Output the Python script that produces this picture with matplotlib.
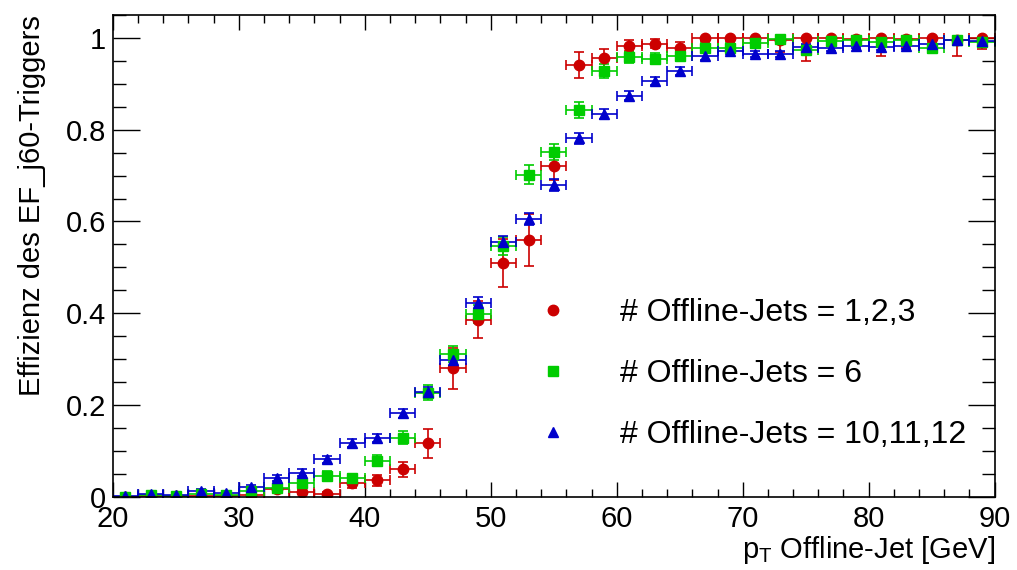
import numpy as np
import matplotlib
matplotlib.use("Agg")
import matplotlib.pyplot as plt
from matplotlib.ticker import MultipleLocator

plt.rcParams['font.family'] = ['Liberation Sans', 'DejaVu Sans']
plt.rcParams['mathtext.default'] = 'regular'

# bin centres (bin width 2 GeV)
pt = [21, 23, 25, 27, 29, 31, 33, 35, 37, 39, 41, 43, 45, 47, 49, 51, 53, 55,
      57, 59, 61, 63, 65, 67, 69, 71, 73, 75, 77, 79, 81, 83, 85, 87, 89]
bin_halfwidth = 1.0

eff_123 = [0.0, 0.002, 0.002, 0.003, 0.003, 0.004, 0.018, 0.012, 0.007, 0.03,
           0.037, 0.06, 0.117, 0.28, 0.386, 0.509, 0.56, 0.72,
           0.941, 0.956, 0.983, 0.987, 0.978, 1.0, 1.0, 1.0, 0.995, 1.0,
           1.0, 0.998, 1.0, 0.998, 1.0, 0.995, 1.0]
err_123 = [0.003, 0.003, 0.003, 0.003, 0.003, 0.004, 0.006, 0.006, 0.005, 0.01,
           0.012, 0.016, 0.032, 0.045, 0.04, 0.052, 0.057, 0.03,
           0.028, 0.02, 0.012, 0.01, 0.012, 0.008, 0.008, 0.006, 0.025, 0.05,
           0.01, 0.01, 0.04, 0.02, 0.012, 0.035, 0.025]

eff_6 = [0.0, 0.004, 0.002, 0.006, 0.005, 0.014, 0.02, 0.031, 0.046, 0.041,
         0.079, 0.129, 0.227, 0.311, 0.398, 0.546, 0.702, 0.751,
         0.843, 0.927, 0.958, 0.954, 0.961, 0.978, 0.978, 0.988, 0.998, 0.974,
         0.994, 0.996, 0.99, 0.996, 0.977, 0.995, 0.99]
err_6 = [0.004, 0.004, 0.004, 0.004, 0.004, 0.005, 0.007, 0.008, 0.01, 0.01,
         0.012, 0.014, 0.016, 0.018, 0.02, 0.02, 0.02, 0.018,
         0.017, 0.015, 0.012, 0.012, 0.012, 0.01, 0.01, 0.01, 0.01, 0.01,
         0.01, 0.01, 0.01, 0.01, 0.01, 0.01, 0.01]

eff_101112 = [0.002, 0.006, 0.004, 0.013, 0.009, 0.022, 0.041, 0.053, 0.082, 0.118,
              0.128, 0.182, 0.229, 0.298, 0.423, 0.555, 0.605, 0.679,
              0.781, 0.834, 0.874, 0.906, 0.927, 0.96, 0.971, 0.965, 0.965, 0.981,
              0.978, 0.983, 0.98, 0.982, 0.987, 0.995, 0.993]
err_101112 = [0.003, 0.003, 0.003, 0.004, 0.004, 0.005, 0.006, 0.007, 0.008, 0.009,
              0.009, 0.01, 0.011, 0.012, 0.013, 0.013, 0.013, 0.013,
              0.012, 0.011, 0.01, 0.009, 0.009, 0.008, 0.007, 0.007, 0.007, 0.006,
              0.006, 0.006, 0.006, 0.006, 0.005, 0.005, 0.005]

series = [
    ("# Offline-Jets = 1,2,3", eff_123, err_123, "#cc0000", "o", 7.5),
    ("# Offline-Jets = 6", eff_6, err_6, "#00cc00", "s", 7.0),
    ("# Offline-Jets = 10,11,12", eff_101112, err_101112, "#0000cc", "^", 7.8),
]

fig = plt.figure(figsize=(10.17, 5.70), dpi=100)
ax = fig.add_axes([0.111, 0.128, 0.867, 0.846])

handles = []
for label, y, e, col, mk, ms in series:
    y = np.array(y)
    e = np.array(e)
    lo = np.minimum(e, y)
    hi = np.minimum(e, 1.0 - y)
    h = ax.errorbar(pt, y, xerr=bin_halfwidth, yerr=[lo, hi], fmt=mk, color=col,
                    ms=ms, mec=col, mfc=col, elinewidth=1.2, capsize=3.5,
                    capthick=1.2, label=label)
    handles.append(h)

ax.set_xlim(20, 90)
ax.set_ylim(0, 1.05)
ax.xaxis.set_major_locator(MultipleLocator(10))
ax.xaxis.set_minor_locator(MultipleLocator(2))
ax.yaxis.set_major_locator(MultipleLocator(0.2))
ax.yaxis.set_minor_locator(MultipleLocator(0.05))
ax.set_yticks([0, 0.2, 0.4, 0.6, 0.8, 1.0])
ax.set_yticklabels(["0", "0.2", "0.4", "0.6", "0.8", "1"])

ax.tick_params(axis='both', which='both', direction='in', top=True, right=True,
               labelsize=21, width=1.0, color='black')
ax.tick_params(axis='x', which='major', length=11, pad=6)
ax.tick_params(axis='x', which='minor', length=5.5)
ax.tick_params(axis='y', which='major', length=19.5, pad=5)
ax.tick_params(axis='y', which='minor', length=9.7)
for sp in ax.spines.values():
    sp.set_linewidth(1.2)

ax.set_xlabel("p$_{T}$ Offline-Jet [GeV]", fontsize=21, loc='right')
ax.set_ylabel("Effizienz des EF_j60-Triggers", fontsize=21, loc='top')
ax.xaxis.set_label_coords(1.0, -0.076)
ax.yaxis.set_label_coords(-0.076, 1.0)

leg_handles = [h[0] for h in handles]
ax.legend(leg_handles, [s[0] for s in series], loc='center left',
          bbox_to_anchor=(0.4626, 0.255), frameon=False, fontsize=23,
          handlelength=2.0, handletextpad=1.1, labelspacing=0.97,
          borderpad=0.0, borderaxespad=0.0, numpoints=1)

fig.savefig("out.png", dpi=100)
